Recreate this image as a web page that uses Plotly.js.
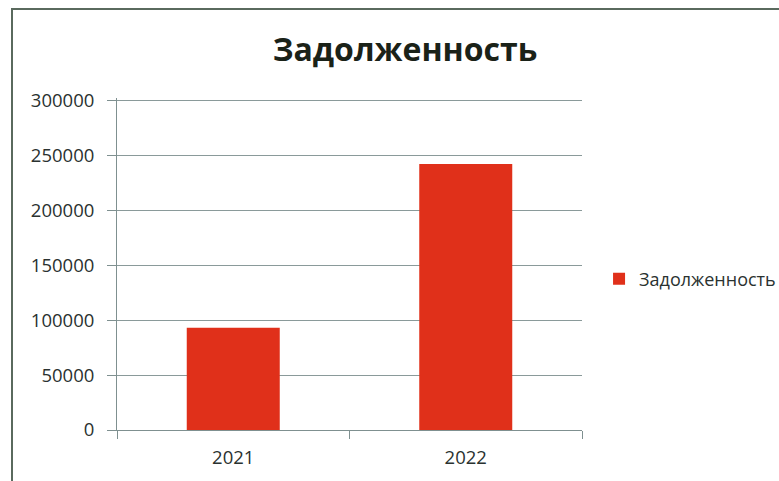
<!DOCTYPE html>
<html>
<head>
<meta charset="utf-8">
<script src="https://cdn.plot.ly/plotly-3.0.1.min.js"></script>
<style>
html,body{margin:0;padding:0;background:#fff;}
#frame{position:absolute;left:11px;top:8px;width:780px;height:480px;border-left:2px solid #5a6a5e;border-top:2px solid #5a6a5e;}
#chart{position:absolute;left:0;top:0;width:779px;height:481px;}
</style>
</head>
<body>
<div id="frame"></div>
<div id="chart"></div>
<script>
var categories = ["2021", "2022"];
var debtValues = [93000, 242000];
var seriesName = "Задолженность";
var chartTitle = "Задолженность";
var yTickValues = [0, 50000, 100000, 150000, 200000, 250000, 300000];

var font = "Open Sans, Noto Sans, sans-serif";
var trace = {
  type: "bar",
  x: categories,
  y: debtValues,
  name: seriesName,
  marker: {color: "#e0301a"},
  hoverinfo: "x+y"
};
var layout = {
  width: 779, height: 481,
  paper_bgcolor: "rgba(0,0,0,0)",
  plot_bgcolor: "rgba(0,0,0,0)",
  margin: {l: 117, r: 197, t: 98, b: 51},
  title: {text: chartTitle, font: {family: font, size: 32, color: "#1a2218", weight: 700}, x: 0.52, xanchor: "center", y: 0.897, yanchor: "middle"},
  bargap: 0.6,
  showlegend: true,
  legend: {xref: "container", yref: "container", x: 0.769, xanchor: "left", y: 0.42, yanchor: "middle", font: {family: font, size: 18, color: "#2a3230"}, itemwidth: 30},
  xaxis: {
    type: "category",
    tickson: "boundaries",
    ticks: "outside", ticklen: 8, tickcolor: "#7f9090",
    showline: true, linecolor: "#7f9090", linewidth: 1,
    showgrid: false,
    tickfont: {family: font, size: 18.5, color: "#2a3230"},
    ticklabelstandoff: 11
  },
  yaxis: {
    range: [0, 302000],
    tickvals: yTickValues,
    ticktext: yTickValues.map(function(v){return String(v);}),
    ticks: "outside", ticklen: 9, tickcolor: "#7f9090",
    showline: true, linecolor: "#7f9090", linewidth: 1,
    showgrid: true, gridcolor: "#8a9a9a", gridwidth: 1,
    zeroline: false,
    tickfont: {family: font, size: 18.5, color: "#2a3230"},
    ticklabelstandoff: 9
  }
};
Plotly.newPlot("chart", [trace], layout, {displayModeBar: false, staticPlot: true});
</script>
</body>
</html>
